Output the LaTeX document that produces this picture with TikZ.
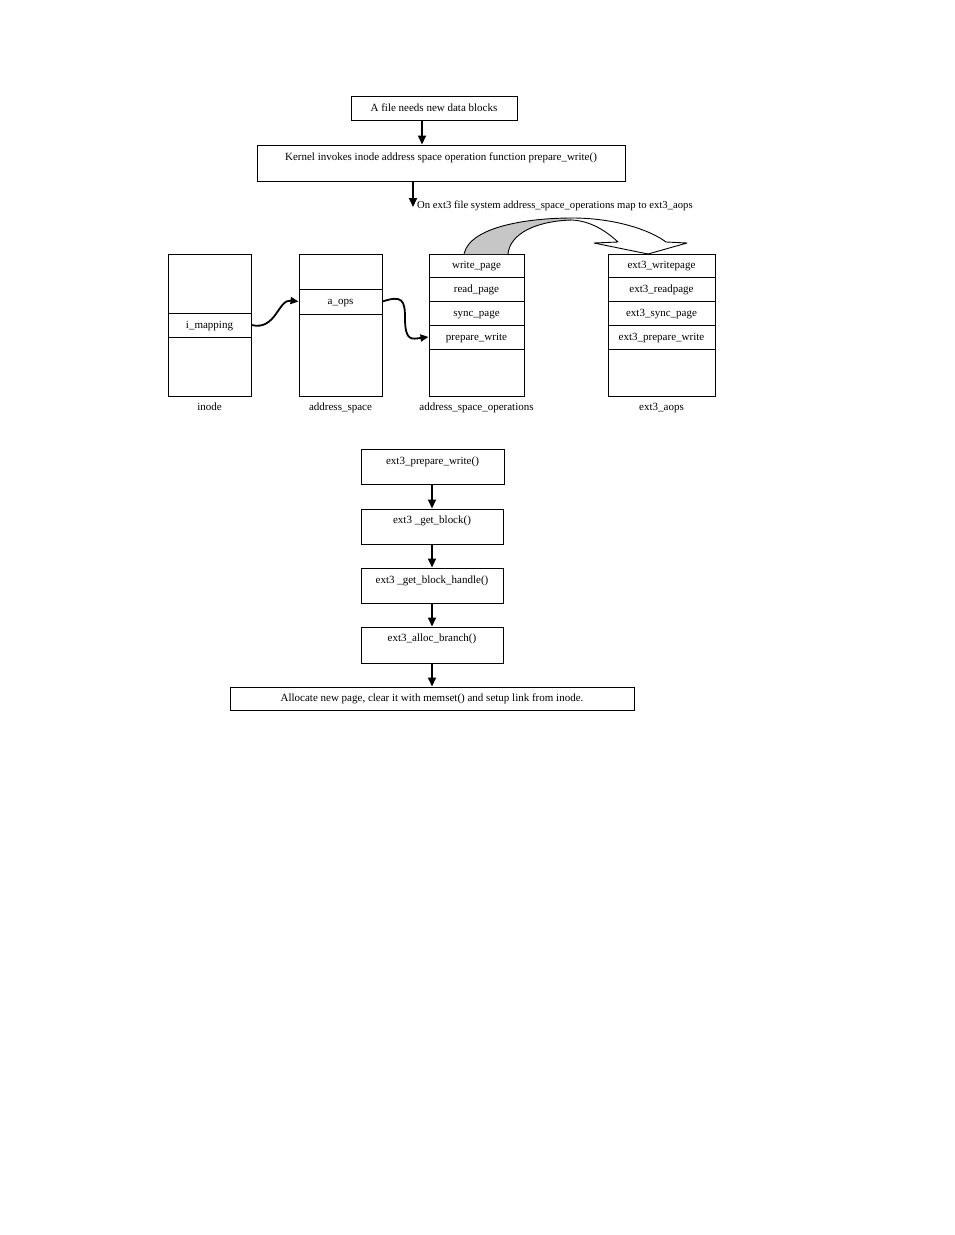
\documentclass[tikz,border=0pt]{standalone}
\usepackage{fontspec}
\setmainfont{Liberation Serif}
\usetikzlibrary{arrows.meta}
\begin{document}
\begin{tikzpicture}[x=1pt,y=-1pt,
  box/.style={draw, line width=1pt, rectangle, inner sep=0pt, font=\fontsize{11}{13}\selectfont, text height=7.5pt, text depth=1.5pt},
  txt/.style={inner sep=0pt, font=\fontsize{11}{13}\selectfont, text height=7.5pt, text depth=1.5pt},
  arr/.style={line width=2pt, -{Triangle[length=9pt,width=8pt]}},
  warr/.style={line width=1.8pt, -{Triangle[length=8pt,width=7pt]}},
  band/.style={line width=0.9pt, line join=round}]
\useasboundingbox (0,0) rectangle (954,1235);

% top flow
\node[box, minimum width=166, minimum height=24] (b1) at (434,108) {A file needs new data blocks};
\node[box, minimum width=368, minimum height=36] (b2) at (441,163) {};
\node[txt] (b2t) at (441,157) {Kernel invokes inode address space operation function prepare\_write()};
\draw[arr] ([xshift=-12pt]b1.south) -- ([xshift=-12pt]b1.south |- b2.north);
\coordinate (tip) at (413,207);
\draw[arr] (b2.south -| tip) -- (tip);
\node[txt, anchor=west, font=\fontsize{10.7}{13}\selectfont] (lbl) at (417,205) {On ext3 file system address\_space\_operations map to ext3\_aops};

% inode
\node[box, minimum width=83, minimum height=142] (inode) at (209.5,325) {};
\node[box, minimum width=83, minimum height=24] (imap) at (209.5,325) {i\_mapping};
\node[txt] (inodel) at (209.5,407) {inode};

% address_space
\node[box, minimum width=83, minimum height=142] (as) at (340.5,325) {};
\node[box, minimum width=83, minimum height=25] (aops) at (340.5,301.5) {a\_ops};
\node[txt] (asl) at (340.5,407) {address\_space};

% address_space_operations
\node[box, minimum width=95, minimum height=142] (aso) at (476.5,325) {};
\node[box, minimum width=95, minimum height=23] (wp) at (476.5,265.5) {write\_page};
\node[box, minimum width=95, minimum height=24] (rp) at (476.5,289) {read\_page};
\node[box, minimum width=95, minimum height=24] (sp) at (476.5,313) {sync\_page};
\node[box, minimum width=95, minimum height=24] (pw) at (476.5,337) {prepare\_write};
\node[txt] (asol) at (476.5,407) {address\_space\_operations};

% ext3_aops
\node[box, minimum width=107, minimum height=142] (ea) at (661.5,325) {};
\node[box, minimum width=107, minimum height=23] (ewp) at (661.5,265.5) {ext3\_writepage};
\node[box, minimum width=107, minimum height=24] (erp) at (661.5,289) {ext3\_readpage};
\node[box, minimum width=107, minimum height=24] (esp) at (661.5,313) {ext3\_sync\_page};
\node[box, minimum width=107, minimum height=24] (epw) at (661.5,337) {ext3\_prepare\_write};
\node[txt] (eal) at (661.5,407) {ext3\_aops};

% wiggly connectors
\draw[warr] (imap.east) .. controls (276,331) and (278,299) .. (aops.west);
\draw[warr] (aops.east) .. controls (402,295) and (405,300) .. (405,318) .. controls (405,342) and (412,339) .. (pw.west);

% curved block arrow
\fill[gray!45] (464,254) .. controls (470,226) and (530,218) .. (572,218) -- (572,220) .. controls (535,221) and (510,234) .. (508,254) -- cycle;
\draw[band] (464,254) .. controls (470,226) and (530,218) .. (572,218);
\draw[band] (508,254) .. controls (510,234) and (535,221) .. (572,220);
\draw[band] (572,218) .. controls (615,218) and (650,230) .. (666,242) -- (687,243) -- (648,254) -- (594,243) -- (618,242) .. controls (605,230) and (590,221) .. (572,220);

% bottom flow
\node[box, minimum width=143, minimum height=35] (f1) at (432.5,466.5) {};
\node[txt] (f1t) at (432.5,461) {ext3\_prepare\_write()};
\node[box, minimum width=142, minimum height=35] (f2) at (432,526.5) {};
\node[txt] (f2t) at (432,520) {ext3 \_get\_block()};
\node[box, minimum width=142, minimum height=35] (f3) at (432,585.5) {};
\node[txt] (f3t) at (432,580) {ext3 \_get\_block\_handle()};
\node[box, minimum width=142, minimum height=36] (f4) at (432,645) {};
\node[txt] (f4t) at (432,638) {ext3\_alloc\_branch()};
\node[box, minimum width=404, minimum height=23] (f5) at (432,698.5) {Allocate new page, clear it with memset() and setup link from inode.};
\draw[arr] (f1.south -| f2.north) -- (f2.north);
\draw[arr] (f2.south) -- (f3.north);
\draw[arr] (f3.south) -- (f4.north);
\draw[arr] (f4.south) -- (f5.north);
\end{tikzpicture}
\end{document}
